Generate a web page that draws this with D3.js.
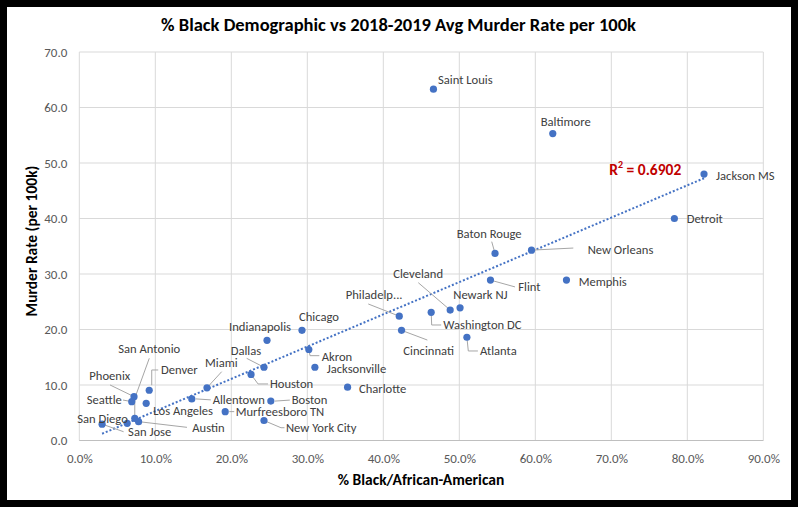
<!DOCTYPE html>
<html>
<head>
<meta charset="utf-8">
<script src="https://cdn.jsdelivr.net/npm/d3@7/dist/d3.min.js"></script>
<style>
  html, body { margin: 0; padding: 0; background: #fff; }
  svg { display: block; }
  text { font-family: Carlito, Lato, "Open Sans", sans-serif; }
</style>
</head>
<body>
<svg id="chart" width="798" height="510"></svg>
<script>
// ---- Data ----
const cities = ["San Jose","San Diego","Austin","San Antonio","Seattle","Phoenix","Los Angeles","Denver",
  "Allentown","Miami","Murfreesboro TN","Houston","New York City","Dallas","Indianapolis","Boston",
  "Chicago","Akron","Jacksonville","Charlotte","Philadelp...","Cincinnati","Washington DC","Saint Louis",
  "Cleveland","Newark NJ","Atlanta","Flint","Baton Rouge","New Orleans","Baltimore","Memphis","Detroit","Jackson MS"];
const pctBlack = [3.0,6.3,7.8,7.3,6.9,7.2,8.8,9.2,
  14.8,16.8,19.2,22.6,24.3,24.3,24.7,25.2,
  29.3,30.2,31.0,35.3,42.1,42.4,46.3,46.6,
  48.8,50.1,51.0,54.1,54.7,59.5,62.3,64.1,78.3,82.2];
const murderRate = [2.95,3.1,3.4,4.0,7.0,7.9,6.7,9.05,
  7.5,9.5,5.2,11.9,3.6,13.2,18.05,7.1,
  19.85,16.4,13.2,9.6,22.4,19.85,23.1,63.3,
  23.5,23.9,18.6,28.9,33.7,34.3,55.3,28.9,40.0,48.0];
const xTicks = [0,10,20,30,40,50,60,70,80,90];
const yTicks = [0,10,20,30,40,50,60,70];
const r2Label = "0.6902";

// ---- Label layout (pixel offsets relative to each point; leader polyline relative) ----
const labelLayout = {
  "San Jose":        {dx:26,   dy:7.6,  lead:[[0,0],[21.5,7.6]]},
  "San Diego":       {dx:-50,  dy:-5,   lead:null},
  "Austin":          {dx:53.7, dy:5.7,  lead:[[0,0],[48.4,5.7]]},
  "San Antonio":     {dx:-16.5,dy:-70,  lead:[[14.5,-60],[0,-20],[0,0]]},
  "Seattle":         {dx:-45,  dy:-2.6, lead:[[-8.7,-1.6],[0,0]]},
  "Phoenix":         {dx:-44.7,dy:-20.7,lead:[[-24,-11.7],[0,0]]},
  "Los Angeles":     {dx:7.1,  dy:7.4,  lead:null},
  "Denver":          {dx:11.8, dy:-20.3,lead:[[9,-20.3],[2.5,-20.3],[2.5,-5]]},
  "Allentown":       {dx:20.9, dy:1.1,  lead:[[4,0],[19,1]]},
  "Miami":           {dx:-2,   dy:-25.5,lead:[[14.7,-16.1],[0,0]]},
  "Murfreesboro TN": {dx:10.5, dy:0.1,  lead:[[4,0],[9,0]]},
  "Houston":         {dx:18.9, dy:9.5,  lead:[[0,0],[7,9.5],[17,9.5]]},
  "New York City":   {dx:22,   dy:7.2,  lead:[[0,0],[17,7.2],[20.5,7.2]]},
  "Dallas":          {dx:-33.3,dy:-17.2,lead:[[-17.3,-8.9],[0,0]]},
  "Indianapolis":    {dx:-38,  dy:-14.3,lead:null},
  "Boston":          {dx:20.9, dy:-1.1, lead:[[4,0],[19,-1]]},
  "Chicago":         {dx:-3,   dy:-14.3,lead:null},
  "Akron":           {dx:12.9, dy:7.5,  lead:[[0,0],[1.2,6.2],[10.5,6.2]]},
  "Jacksonville":    {dx:11.8, dy:1.1,  lead:null},
  "Charlotte":       {dx:11.4, dy:1.1,  lead:null},
  "Philadelp...":    {dx:-53.6,dy:-21.2,lead:[[-31,-12.2],[0,0]]},
  "Cincinnati":      {dx:1.8,  dy:19.7, lead:[[0,0],[25.8,9.7]]},
  "Washington DC":   {dx:12.1, dy:12.7, lead:[[0,0],[0.5,12.7],[10,12.7]]},
  "Saint Louis":     {dx:4.5,  dy:-9.9, lead:null},
  "Cleveland":       {dx:-56.9,dy:-36.8,lead:[[-31.9,-27.4],[0,0]]},
  "Newark NJ":       {dx:-6.8, dy:-12.9,lead:null},
  "Atlanta":         {dx:13.1, dy:13.7, lead:[[0,0],[1.4,13.7],[11,13.7]]},
  "Flint":           {dx:27.8, dy:6.6,  lead:[[0,0],[24.5,6.8]]},
  "Baton Rouge":     {dx:-38.3,dy:-20.2,lead:[[-3.3,-11.8],[0,0]]},
  "New Orleans":     {dx:56.2, dy:-1.1, lead:[[0,0],[41.8,-2.1]]},
  "Baltimore":       {dx:-12.1,dy:-11.6,lead:null},
  "Memphis":         {dx:12.2, dy:0.9,  lead:null},
  "Detroit":         {dx:12.3, dy:-0.2, lead:null},
  "Jackson MS":      {dx:12,   dy:0.9,  lead:null}
};

const svg = d3.select("#chart");
// frame
svg.append("rect").attr("x",0).attr("y",0).attr("width",798).attr("height",507).attr("fill","#000");
svg.append("rect").attr("x",7).attr("y",7).attr("width",784).attr("height",493).attr("fill","#fff");

const x = d3.scaleLinear().domain([0,90]).range([79.3,763.3]);
const y = d3.scaleLinear().domain([0,70]).range([440.5,52]);

const g = svg.append("g");
// gridlines
g.selectAll(".vg").data(xTicks).join("line")
  .attr("x1",d=>x(d)).attr("x2",d=>x(d)).attr("y1",y(0)).attr("y2",y(70))
  .attr("stroke","#d9d9d9").attr("stroke-width",1);
g.selectAll(".hg").data(yTicks).join("line")
  .attr("x1",x(0)).attr("x2",x(90)).attr("y1",d=>y(d)).attr("y2",d=>y(d))
  .attr("stroke","#d9d9d9").attr("stroke-width",1);
g.append("line").attr("x1",x(0)).attr("x2",x(90)).attr("y1",y(0)).attr("y2",y(0))
  .attr("stroke","#bfbfbf").attr("stroke-width",1);

// axes via d3
const xAxis = d3.axisBottom(x).tickValues(xTicks).tickFormat(d=>d.toFixed(1)+"%").tickSize(0).tickPadding(13);
const yAxis = d3.axisLeft(y).tickValues(yTicks).tickFormat(d=>d.toFixed(1)).tickSize(0).tickPadding(12);
const xa = svg.append("g").attr("transform",`translate(0,${y(0)})`).call(xAxis);
const ya = svg.append("g").attr("transform",`translate(${x(0)},0)`).call(yAxis);
[xa,ya].forEach(a=>{
  a.select(".domain").remove();
  a.selectAll("text").attr("fill","#595959").style("font-size","13px")
    .style("font-family","Carlito, Lato, 'Open Sans', sans-serif");
});

// trendline (least squares on the data)
const n = pctBlack.length;
const mx = d3.mean(pctBlack), my = d3.mean(murderRate);
let sxy=0, sxx=0;
for (let i=0;i<n;i++){ sxy += (pctBlack[i]-mx)*(murderRate[i]-my); sxx += (pctBlack[i]-mx)**2; }
const slope = sxy/sxx, intercept = my - slope*mx;
const x0 = d3.min(pctBlack), x1 = d3.max(pctBlack);
svg.append("line")
  .attr("x1",x(x0)).attr("y1",y(intercept+slope*x0))
  .attr("x2",x(x1)).attr("y2",y(intercept+slope*x1))
  .attr("stroke","#4472c4").attr("stroke-width",2).attr("stroke-dasharray","2,2");

const pts = cities.map((c,i)=>({name:c, px:x(pctBlack[i]), py:y(murderRate[i])}));

// leader lines
const lineGen = d3.line();
svg.append("g").selectAll("path").data(pts.filter(p=>labelLayout[p.name].lead)).join("path")
  .attr("d",p=>lineGen(labelLayout[p.name].lead.map(([a,b])=>[p.px+a,p.py+b])))
  .attr("fill","none").attr("stroke","#a6a6a6").attr("stroke-width",1);

// points
svg.append("g").selectAll("circle").data(pts).join("circle")
  .attr("cx",p=>p.px).attr("cy",p=>p.py).attr("r",3.6).attr("fill","#4472c4");

// labels
svg.append("g").selectAll("text").data(pts).join("text")
  .attr("x",p=>p.px+labelLayout[p.name].dx).attr("y",p=>p.py+labelLayout[p.name].dy)
  .attr("dominant-baseline","central")
  .attr("fill","#404040").style("font-size","12.6px").text(p=>p.name);

// R² label
const r2 = svg.append("text").attr("x",609.3).attr("y",169.3).attr("dominant-baseline","central")
  .attr("fill","#c00000").style("font-size","15.5px").style("font-weight","bold");
r2.append("tspan").text("R");
r2.append("tspan").attr("dy",-5).style("font-size","10px").text("2");
r2.append("tspan").attr("dy",5).text(" = " + r2Label);

// titles
svg.append("text").attr("x",398.5).attr("y",24).attr("text-anchor","middle").attr("dominant-baseline","central")
  .attr("fill","#000").style("font-size","18.5px").style("font-weight","bold")
  .text("% Black Demographic vs 2018-2019 Avg Murder Rate per 100k");
svg.append("text").attr("x",421).attr("y",479).attr("text-anchor","middle").attr("dominant-baseline","central")
  .attr("fill","#000").style("font-size","15.5px").style("font-weight","bold")
  .text("% Black/African-American");
svg.append("text").attr("transform","translate(31,241) rotate(-90)").attr("text-anchor","middle")
  .attr("dominant-baseline","central")
  .attr("fill","#000").style("font-size","15.5px").style("font-weight","bold")
  .text("Murder Rate (per 100k)");
</script>
</body>
</html>
